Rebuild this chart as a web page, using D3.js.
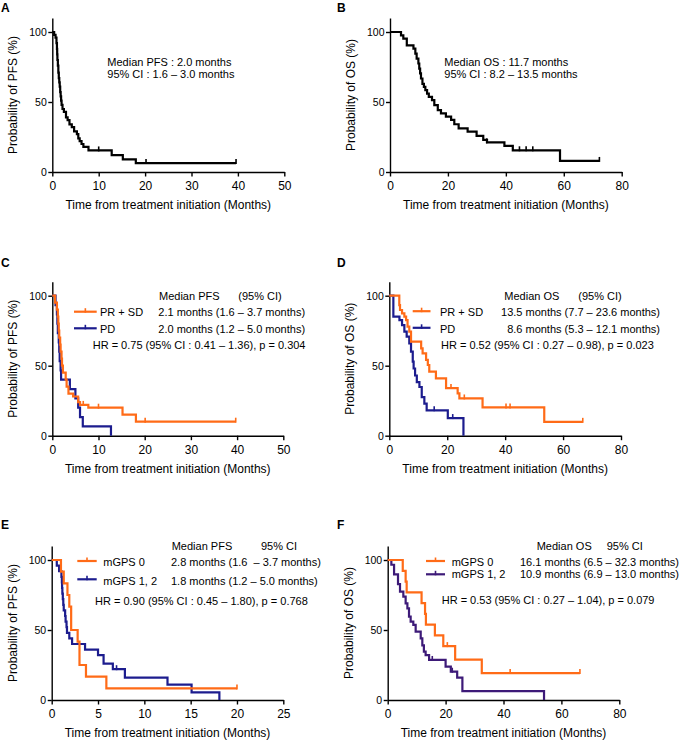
<!DOCTYPE html>
<html><head><meta charset="utf-8">
<script src="https://cdn.jsdelivr.net/npm/d3@7"></script>
<style>body{margin:0;background:#fff} svg{display:block} text{font-family:Arial,"Liberation Sans",sans-serif;fill:#000}</style>
</head><body>
<svg id="c" width="683" height="742"></svg>
<script>
// ---------- DATA: Kaplan-Meier steps as [month, survival %] ----------
const pfsAll = [[0,100],[0.4,98],[0.7,96],[0.9,92],[1.0,88],[1.05,84],[1.1,80],[1.2,76],[1.3,71],[1.4,67],[1.5,64],[1.6,61],[1.7,57],[1.8,54],[1.9,51],[2.0,48],[2.2,45],[2.5,43],[2.95,39],[3.3,37],[3.7,34],[4.2,32],[4.7,29],[5.3,27],[5.6,24],[5.9,22],[6.3,20],[6.7,18],[7.8,15.4],[12.8,12.1],[15.2,9],[18.0,6.4]];
const pfsAllEnd = 39.6;
const pfsAllCensor = [[10,15.4],[20.2,6.4],[39.6,6.4]];

const osAll = [[0,100],[3.8,97.6],[4.6,95.3],[5.8,90.5],[8.1,88.1],[8.75,84.6],[9.2,81],[9.8,77.5],[10.1,73.9],[10.4,70.4],[10.7,66.8],[11.2,63],[11.7,60.8],[12.2,58.5],[12.8,56],[13.4,53.7],[14.5,51.4],[15.3,47.8],[16.5,44.2],[17.6,41.9],[19.3,39.5],[21.1,37.2],[22.2,34.1],[23.7,31.2],[26.8,28.8],[29.9,25.8],[32.2,22.9],[33.5,21.2],[39.5,18.6],[42.4,15.5],[58.7,7.9]];
const osAllEnd = 72.3;
const osAllCensor = [[33.4,21.2],[44.7,15.5],[47,15.5],[49.3,15.5],[72.3,7.9]];

const pfsResp = [[0,100],[0.6,95],[1.0,90],[1.2,85],[1.3,80],[1.4,75],[1.5,70],[1.7,65],[1.8,60],[2.0,55],[2.1,50],[2.3,45],[2.9,40],[3.1,35],[3.5,30],[4.5,28],[5.6,24],[6.0,22],[7.8,20],[15.2,15],[18.1,10]];
const pfsRespEnd = 39.7;
const pfsRespCensor = [[6.7,22],[10,20],[20.1,10],[39.7,10]];
const pfsPD = [[0,100],[0.7,93.3],[1.0,86.7],[1.1,80],[1.2,73.3],[1.4,66.7],[1.5,60],[1.6,53.3],[1.8,46.7],[1.9,40],[3.8,33.3],[5.0,26.7],[5.6,20],[6.0,13.3],[6.6,6.7],[12.7,0]];
const pfsPDEnd = 12.7;
const pfsPDCensor = [];

const osResp = [[0,100],[3.45,93.3],[3.7,89.8],[4.4,87.4],[5.2,85],[5.8,82.6],[6.3,77.9],[6.9,74.3],[7.5,67.2],[11.0,62.4],[11.5,58.8],[12.7,54.1],[13.3,50.5],[13.8,45.8],[16.1,41],[19.6,34],[23.6,30.2],[24.2,26.6],[32.2,20.2],[53.5,9.9]];
const osRespEnd = 66.8;
const osRespCensor = [[21.3,34],[25.9,26.6],[40.3,20.2],[41.7,20.2],[66.8,9.9]];
const osPD = [[0,100],[1.4,85],[3.5,82.6],[4.4,79],[5.2,74.3],[6.0,70.7],[6.9,66],[7.5,60],[8.1,52.9],[8.4,48],[8.9,43],[9.5,38.3],[10.4,34.8],[11.2,27.6],[12.1,22.9],[12.9,18.1],[20.2,12.6],[25.6,0]];
const osPDEnd = 25.6;
const osPDCensor = [[15.5,18.1],[21.9,12.6]];

const pfsG0 = [[0,100],[1.0,91.7],[1.3,83.3],[1.7,75],[1.9,66.7],[2.1,50],[2.8,41.7],[3.0,25],[3.7,16.7],[5.9,8.3]];
const pfsG0End = 20;
const pfsG0Censor = [[20,8.3]];
const pfsG12 = [[0,100],[0.55,96],[0.8,92],[1.05,88],[1.1,84],[1.12,80],[1.15,76],[1.2,72],[1.25,68],[1.3,64],[1.45,60],[1.5,56],[1.6,52],[1.65,48],[1.9,44],[2.2,40],[3.6,36],[5.0,32],[5.6,26],[6.6,22],[7.9,16],[12.5,11],[15.1,5.5],[18.1,0]];
const pfsG12End = 18.1;
const pfsG12Censor = [[7.0,22]];

const osG0 = [[0,100],[5.2,92.3],[6.2,84.6],[6.55,76.9],[11.7,69.2],[12.9,61.5],[13.2,53.8],[16.3,46.2],[19.2,38.5],[23.3,28.8],[32.5,19.2]];
const osG0End = 66.4;
const osG0Censor = [[20.6,38.5],[42.3,19.2],[66.4,19.2]];
const osG12 = [[0,100],[1.26,96.6],[2.2,89.7],[3.56,82.8],[4.25,77.4],[5.4,73.8],[6.2,69],[6.8,65.5],[7.36,59.5],[7.93,56],[8.85,53.6],[9.66,48.8],[11.4,44],[11.96,39],[12.5,34.5],[13.1,32],[14.3,28.6],[20.0,23.8],[21.8,20.2],[24.0,16],[25.8,6.4],[54.0,0]];
const osG12End = 54;
const osG12Censor = [[15.4,28.6],[22.3,20.2]];

const yTicks = [0,50,100];
const xTicks50 = [0,10,20,30,40,50];
const xTicks80 = [0,20,40,60,80];
const xTicks25 = [0,5,10,15,20,25];
const xTitle = 'Time from treatment initiation (Months)';

// ---------- DRAWING ----------
const ORANGE = '#ff6b17', NAVY = '#1c1c8e', PURPLE = '#3d1a78';
const svg = d3.select('#c');

function txt(x, y, s, opt = {}) {
  return svg.append('text').attr('x', x).attr('y', y)
    .attr('font-size', opt.size || 11)
    .attr('font-weight', opt.bold ? 'bold' : 'normal')
    .attr('text-anchor', opt.anchor || 'start')
    .text(s);
}

function makePanel(left, right, zero, xmax, xticks, ytitle) {
  const x = d3.scaleLinear().domain([0, xmax]).range([left, right]);
  const y = d3.scaleLinear().domain([0, 110]).range([zero, zero - 154]);
  const g = svg.append('g');
  const ax = g.append('g').attr('transform', `translate(0,${zero})`)
    .call(d3.axisBottom(x).tickValues(xticks).tickSize(4.5).tickPadding(5).tickSizeOuter(0));
  ax.selectAll('text').attr('font-size', 12).attr('font-family', 'Arial, "Liberation Sans", sans-serif').attr('fill', '#000');
  const ay = g.append('g').attr('transform', `translate(${left},0)`)
    .call(d3.axisLeft(y).tickValues(yTicks).tickSize(4).tickPadding(1.5).tickSizeOuter(0));
  ay.selectAll('text').attr('font-size', 10.5).attr('font-family', 'Arial, "Liberation Sans", sans-serif').attr('fill', '#000');
  [ax, ay].forEach(a => {
    a.selectAll('path,line').attr('stroke', '#000').attr('stroke-width', 1.4);
  });
  g.append('text').attr('transform', `translate(${left - 35},${zero - 77}) rotate(-90)`)
    .attr('text-anchor', 'middle').attr('font-size', 12).text(ytitle);
  g.append('text').attr('x', (left + right) / 2).attr('y', zero + 37)
    .attr('text-anchor', 'middle').attr('font-size', 12).text(xTitle);
  return { x, y, g };
}

function km(p, steps, end, censors, color) {
  const pts = steps.concat([[end, steps[steps.length - 1][1]]]);
  const line = d3.line().x(d => p.x(d[0])).y(d => p.y(d[1])).curve(d3.curveStepAfter);
  p.g.append('path').datum(pts).attr('d', line)
    .attr('fill', 'none').attr('stroke', color).attr('stroke-width', 2.2);
  p.g.selectAll(null).data(censors).enter().append('line')
    .attr('x1', d => p.x(d[0])).attr('x2', d => p.x(d[0]))
    .attr('y1', d => p.y(d[1]) - 4).attr('y2', d => p.y(d[1]) + 1)
    .attr('stroke', color).attr('stroke-width', 1.6);
}

function legendLine(x1, x2, y, color) {
  svg.append('line').attr('x1', x1).attr('x2', x2).attr('y1', y).attr('y2', y)
    .attr('stroke', color).attr('stroke-width', 2.2);
  const m = (x1 + x2) / 2;
  svg.append('line').attr('x1', m).attr('x2', m).attr('y1', y - 3.5).attr('y2', y + 1)
    .attr('stroke', color).attr('stroke-width', 1.6);
}

// Panel A
const pA = makePanel(52.3, 284.3, 172, 50, xTicks50, 'Probability of PFS (%)');
km(pA, pfsAll, pfsAllEnd, pfsAllCensor, '#000');
txt(107.3, 65.7, 'Median PFS : 2.0 months');
txt(107.3, 77.7, '95% CI : 1.6 – 3.0 months');
txt(1, 11.7, 'A', { size: 12, bold: true });

// Panel B
const pB = makePanel(390, 621.7, 172, 80, xTicks80, 'Probability of OS (%)');
km(pB, osAll, osAllEnd, osAllCensor, '#000');
txt(444.3, 65.7, 'Median OS : 11.7 months');
txt(444.3, 77.7, '95% CI : 8.2 – 13.5 months');
txt(337, 11.7, 'B', { size: 12, bold: true });

// Panel C
const pC = makePanel(52.3, 283.3, 435.7, 50, xTicks50, 'Probability of PFS (%)');
km(pC, pfsPD, pfsPDEnd, pfsPDCensor, NAVY);
km(pC, pfsResp, pfsRespEnd, pfsRespCensor, ORANGE);
txt(1, 266.7, 'C', { size: 12, bold: true });
txt(159, 300, 'Median PFS');
txt(238.3, 300, '(95% CI)');
legendLine(74, 96.7, 311.7, ORANGE);
legendLine(74, 96.7, 328.3, NAVY);
txt(100, 316, 'PR + SD');
txt(100, 332.7, 'PD');
txt(158.3, 316, '2.1 months (1.6 – 3.7 months)');
txt(158.3, 332.7, '2.0 months (1.2 – 5.0 months)');
txt(92.7, 349.3, 'HR = 0.75 (95% CI : 0.41 – 1.36), p = 0.304');

// Panel D
const pD = makePanel(389.3, 621, 435.7, 80, xTicks80, 'Probability of OS (%)');
km(pD, osPD, osPDEnd, osPDCensor, NAVY);
km(pD, osResp, osRespEnd, osRespCensor, ORANGE);
txt(337, 266.7, 'D', { size: 12, bold: true });
txt(504.3, 300, 'Median OS');
txt(578.3, 300, '(95% CI)');
legendLine(412.7, 430.5, 311.2, ORANGE);
legendLine(412.7, 430.5, 327.8, NAVY);
txt(440, 316, 'PR + SD');
txt(440, 332.7, 'PD');
txt(660, 316, '13.5 months (7.7 – 23.6 months)', { anchor: 'end' });
txt(660, 332.7, '8.6 months (5.3 – 12.1 months)', { anchor: 'end' });
txt(441, 349.3, 'HR = 0.52 (95% CI : 0.27 – 0.98), p = 0.023');

// Panel E
const pE = makePanel(51.7, 283.3, 700, 25, xTicks25, 'Probability of PFS (%)');
km(pE, pfsG12, pfsG12End, pfsG12Censor, NAVY);
km(pE, pfsG0, pfsG0End, pfsG0Censor, ORANGE);
txt(1, 529, 'E', { size: 12, bold: true });
txt(171.7, 549.5, 'Median PFS');
txt(261, 549.5, '95% CI');
legendLine(77.3, 96.7, 561, ORANGE);
legendLine(77.3, 96.7, 579.3, NAVY);
txt(103.3, 565.7, 'mGPS 0');
txt(103.3, 584.7, 'mGPS 1, 2');
txt(171, 565.7, '2.8 months (1.6  – 3.7 months)').attr('xml:space', 'preserve').style('white-space', 'pre');
txt(171, 584.7, '1.8 months (1.2 – 5.0 months)');
txt(95, 604.7, 'HR = 0.90 (95% CI : 0.45 – 1.80), p = 0.768');

// Panel F
const pF = makePanel(387.7, 619.3, 700, 80, xTicks80, 'Probability of OS (%)');
km(pF, osG12, osG12End, osG12Censor, PURPLE);
km(pF, osG0, osG0End, osG0Censor, ORANGE);
txt(337, 529, 'F', { size: 12, bold: true });
txt(536.7, 549.5, 'Median OS');
txt(606.7, 549.5, '95% CI');
legendLine(426, 445, 561, ORANGE);
legendLine(426, 445, 574.3, PURPLE);
txt(451.7, 565.7, 'mGPS 0');
txt(451.7, 578.3, 'mGPS 1, 2');
txt(520, 565.7, '16.1 months (6.5 – 32.3 months)');
txt(520, 578.3, '10.9 months (6.9 – 13.0 months)');
txt(441.7, 604, 'HR = 0.53 (95% CI : 0.27 – 1.04), p = 0.079');
</script>
</body></html>
